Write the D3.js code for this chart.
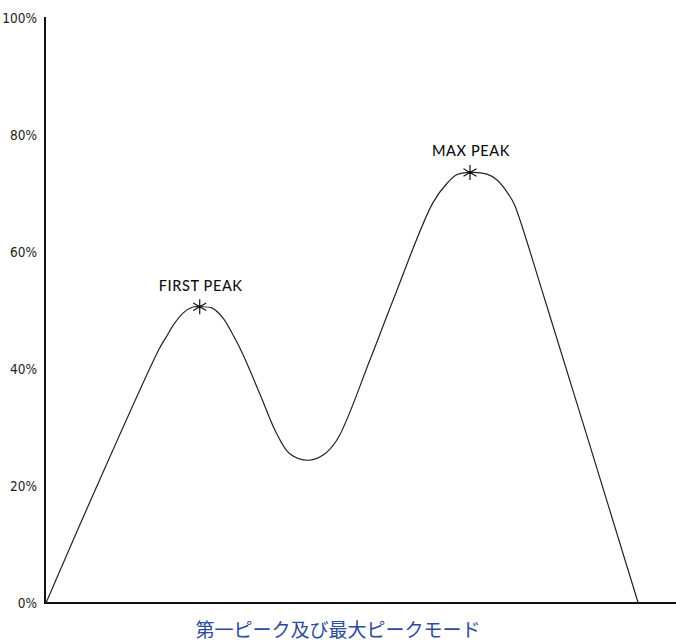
<!DOCTYPE html>
<html><head><meta charset="utf-8">
<script src="https://cdn.jsdelivr.net/npm/d3@7/dist/d3.min.js"></script>
<style>
html,body{margin:0;padding:0;background:#fff;}
svg{display:block;}
</style></head>
<body>
<script>
// Position along the (unlabelled) horizontal axis, 0–100
const curveX = [0, 7.1, 17.9, 19.1, 20.2, 21.8, 23.3, 24.4, 26.4, 28.1, 29.7, 31.3, 34, 36.5, 38.7, 41.6, 44, 46.2, 51.4, 55.1, 61.4, 63.7, 65.2, 67.3, 70, 71.6, 73.7, 74.4, 79.2, 94];
// Percentage values
const curveY = [0, 17.6, 43.3, 45.5, 47.5, 49.6, 50.6, 50.65, 50.4, 48.7, 45.8, 42.4, 35.6, 29.2, 25.5, 24.4, 25.3, 27.9, 41.5, 51.8, 68.4, 71.8, 73.2, 73.6, 73.3, 72.3, 69.4, 68, 51.8, 0];
const peakLabels = ["FIRST PEAK", "MAX PEAK"];
const peakX = [24.4, 67.3];
const peakY = [50.65, 73.6];
const yTicks = [0, 20, 40, 60, 80, 100];
const title = "第一ピーク及び最大ピークモード";

const W = 676, H = 641;
const svg = d3.select("body").append("svg").attr("width", W).attr("height", H);

const x = d3.scaleLinear().domain([0, 100]).range([46, 676]);
const y = d3.scaleLinear().domain([0, 100]).range([603, 18]);

// axes
const yAxis = d3.axisLeft(y).tickValues(yTicks).tickFormat(d => d + "%").tickSize(0).tickPadding(8);
const gy = svg.append("g").attr("transform", "translate(45,0)").call(yAxis);
gy.select(".domain").remove();
gy.selectAll("text").attr("font-family", "'DejaVu Sans Condensed', 'DejaVu Sans', sans-serif")
  .attr("font-size", 13.5).attr("fill", "#222").attr("dy", "0.36em");

svg.append("line").attr("x1", 45).attr("x2", 45).attr("y1", y(100) - 1).attr("y2", y(0) + 1)
  .attr("stroke", "#111").attr("stroke-width", 2);
svg.append("line").attr("x1", 44).attr("x2", 676).attr("y1", y(0)).attr("y2", y(0))
  .attr("stroke", "#111").attr("stroke-width", 2);

// curve
const pts = curveX.map((v, i) => [v, curveY[i]]);
const line = d3.line().x(d => x(d[0])).y(d => y(d[1])).curve(d3.curveCatmullRom.alpha(0.5));
svg.append("path").attr("d", line(pts)).attr("fill", "none").attr("stroke", "#222").attr("stroke-width", 1.2);

// peak markers (asterisks) and labels
peakX.forEach((px, i) => {
  const cx = x(px), cy = y(peakY[i]);
  const g = svg.append("g").attr("transform", `translate(${cx},${cy})`);
  for (let k = 0; k < 3; k++) {
    const a = Math.PI / 2 + k * Math.PI / 3;
    const r = 7.5;
    g.append("line").attr("x1", r * Math.cos(a)).attr("y1", r * Math.sin(a))
      .attr("x2", -r * Math.cos(a)).attr("y2", -r * Math.sin(a))
      .attr("stroke", "#111").attr("stroke-width", 1.2);
  }
  g.append("circle").attr("r", 1.6).attr("fill", "#111");
  svg.append("text").attr("x", cx + 1).attr("y", cy - 16)
    .attr("text-anchor", "middle")
    .attr("font-family", "Lato, 'Noto Sans', sans-serif").attr("font-weight", 500)
    .attr("font-size", 14.5).attr("letter-spacing", "0.6px").attr("fill", "#111")
    .text(peakLabels[i]);
});

// title
svg.append("text").attr("x", 338).attr("y", 637).attr("text-anchor", "middle")
  .attr("font-family", "'Noto Sans CJK JP', sans-serif").attr("font-size", 19)
  .attr("fill", "#2e4a9e").text(title);
</script>
</body></html>
